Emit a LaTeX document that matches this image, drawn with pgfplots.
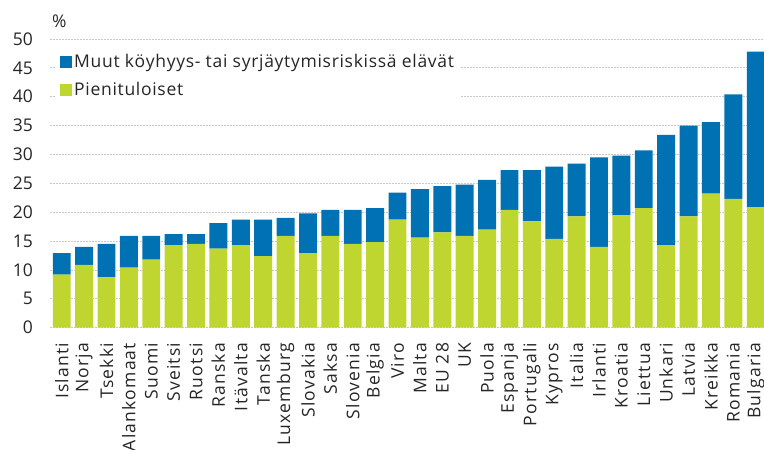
\documentclass[border=0pt]{standalone}
\usepackage{fontspec}
\setmainfont{Open Sans}
\newfontfamily\spfont[LetterSpace=7]{Open Sans}
\newfontfamily\lgfont[LetterSpace=4]{Open Sans}
\usepackage{pgfplots}
\usepackage{pgfplotstable}
\pgfplotsset{compat=1.18}
\definecolor{cblue}{RGB}{0,113,178}
\definecolor{cgreen}{RGB}{192,214,48}
\definecolor{cgrid}{RGB}{200,200,200}
\definecolor{ctext}{RGB}{38,38,38}
\pgfplotstableread{
x green blue
0 9.2 3.7
1 10.9 3.1
2 8.7 5.8
3 10.4 5.5
4 11.8 4.1
5 14.3 1.9
6 14.5 1.7
7 13.7 4.4
8 14.3 4.4
9 12.4 6.3
10 15.9 3.1
11 12.9 6.9
12 15.9 4.5
13 14.5 5.9
14 14.8 5.9
15 18.7 4.7
16 15.6 8.4
17 16.5 8.0
18 15.9 8.9
19 17.0 8.6
20 20.4 6.9
21 18.4 8.9
22 15.4 12.5
23 19.3 9.1
24 14.0 15.5
25 19.5 10.3
26 20.7 10.0
27 14.3 19.1
28 19.3 15.7
29 23.2 12.4
30 22.3 18.1
31 20.9 26.9
}\datatable
\begin{document}
\fontsize{17.5bp}{21bp}\selectfont
\begin{tikzpicture}
\path[use as bounding box] (0,0) rectangle (764bp,450bp);
\begin{axis}[
  at={(50bp,122.3bp)}, anchor=south west,
  scale only axis, width=714bp, height=288.7bp,
  ybar stacked, bar width=0.8,
  xmin=-0.523, xmax=31.37, ymin=0, ymax=50,
  ytick={0,5,...,50},
  xtick=data,
  xticklabels={Islanti,Norja,Tsekki,Alankomaat,Suomi,Sveitsi,Ruotsi,Ranska,Itävalta,Tanska,Luxemburg,Slovakia,Saksa,Slovenia,Belgia,Viro,Malta,EU 28,UK,Puola,Espanja,Portugali,Kypros,Italia,Irlanti,Kroatia,Liettua,Unkari,Latvia,Kreikka,Romania,Bulgaria},
  xticklabel style={yshift=-15bp, rotate=90, anchor=east, inner sep=0pt, font=\spfont\fontsize{17.5bp}{21bp}\selectfont, text=ctext},
  yticklabel style={anchor=east, inner sep=0pt, xshift=-17bp, font=\fontsize{17.5bp}{21bp}\selectfont, text=ctext},
  /pgf/number format/assume math mode=true,
  major tick length=0pt,
  axis line style={draw=none},
  ymajorgrids,
  grid style={cgrid, line width=0.8bp, dash pattern=on 2bp off 1bp},
  clip mode=individual,
  reverse legend,
  legend cell align=left,
  legend style={at={(axis description cs:0.007,0.966)}, anchor=north west, draw=none, fill=white,
    font=\lgfont\fontsize{17.5bp}{21bp}\selectfont, text=ctext, inner xsep=5bp, inner ysep=3bp,
    row sep=8bp, /tikz/every odd column/.append style={column sep=0bp}},
  legend image code/.code={\fill[#1] (0bp,-6bp) rectangle (12bp,6bp);},
]
\addplot[fill=cgreen, draw=none] table[x=x, y=green] {\datatable};
\addlegendentry{Pienituloiset}
\addplot[fill=cblue, draw=none] table[x=x, y=blue] {\datatable};
\addlegendentry{Muut köyhyys- tai syrjäytymisriskissä elävät}
\node[anchor=base west, inner sep=0pt, text=ctext] at ([xshift=2bp, yshift=11bp] rel axis cs:0,1) {\%};
\end{axis}
\end{tikzpicture}
\end{document}
